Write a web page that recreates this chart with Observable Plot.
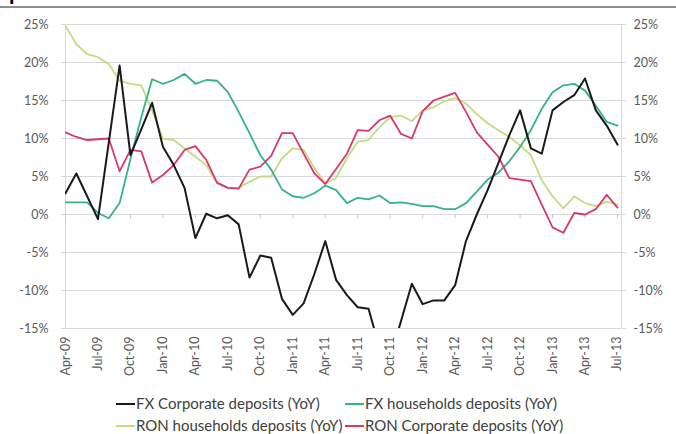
<!DOCTYPE html>
<html>
<head>
<meta charset="utf-8">
<script src="https://cdn.jsdelivr.net/npm/d3@7"></script>
<script src="https://cdn.jsdelivr.net/npm/@observablehq/plot@0.6"></script>
<style>
  html, body { margin: 0; padding: 0; background: #fff; }
  #wrap { position: relative; width: 676px; height: 434px; overflow: hidden; font-family: Lato, "Open Sans", sans-serif; }
  #head { position: absolute; left: 0; top: 0; width: 676px; height: 6px; border-bottom: 2px solid #8f8f8f; overflow: hidden; z-index: 5; }
  #title { position: absolute; left: 9px; top: -20px; font: bold 22px/24px Lato, sans-serif; color: #000; }
  #chart { position: absolute; left: 0; top: 0; z-index: 1; }
  #legend { position: absolute; left: 0; top: 0; z-index: 2; }
  .leg { position: absolute; font-size: 15px; color: #404040; white-space: nowrap; line-height: 16px; }
  .leg span.sw { display: inline-block; width: 19px; height: 2px; vertical-align: middle; margin-right: 1px; position: relative; top: -1px; }
</style>
</head>
<body>
<div id="wrap">
  <div id="chart"></div>
  <div id="head"><div id="title">pos</div></div>
  <div id="legend"></div>
</div>
<script>
const months = ["Apr-09","May-09","Jun-09","Jul-09","Aug-09","Sep-09","Oct-09","Nov-09","Dec-09",
  "Jan-10","Feb-10","Mar-10","Apr-10","May-10","Jun-10","Jul-10","Aug-10","Sep-10","Oct-10","Nov-10","Dec-10",
  "Jan-11","Feb-11","Mar-11","Apr-11","May-11","Jun-11","Jul-11","Aug-11","Sep-11","Oct-11","Nov-11","Dec-11",
  "Jan-12","Feb-12","Mar-12","Apr-12","May-12","Jun-12","Jul-12","Aug-12","Sep-12","Oct-12","Nov-12","Dec-12",
  "Jan-13","Feb-13","Mar-13","Apr-13","May-13","Jun-13","Jul-13"];

const tickLabels = ["Apr-09","Jul-09","Oct-09","Jan-10","Apr-10","Jul-10","Oct-10","Jan-11","Apr-11",
  "Jul-11","Oct-11","Jan-12","Apr-12","Jul-12","Oct-12","Jan-13","Apr-13","Jul-13"];

const yTicks = [-15, -10, -5, 0, 5, 10, 15, 20, 25];

const fxCorporate = [2.8, 5.4, 2.4, -0.6, 9.5, 19.6, 7.8, 11.2, 14.7, 8.9, 6.5, 3.5,
  -3.1, 0.1, -0.5, -0.1, -1.3, -8.3, -5.4, -5.7, -11.1, -13.2, -11.7, -7.8,
  -3.5, -8.6, -10.6, -12.2, -12.4, -17.5, -19.0, -14.0, -9.1, -11.8, -11.3, -11.3,
  -9.3, -3.5, 0.0, 3.2, 6.8, 10.4, 13.7, 8.7, 8.0, 13.7, 14.8, 15.7,
  17.9, 13.7, 11.7, 9.2];

const fxHouseholds = [1.6, 1.6, 1.6, 0.2, -0.5, 1.5, 7.3, 12.8, 17.8, 17.2, 17.7, 18.5,
  17.2, 17.7, 17.6, 16.1, 13.5, 10.7, 7.8, 5.9, 3.3, 2.4, 2.2, 2.8,
  3.8, 3.2, 1.5, 2.2, 2.0, 2.5, 1.5, 1.6, 1.4, 1.1, 1.1, 0.7,
  0.7, 1.5, 3.0, 4.6, 5.5, 7.0, 8.9, 11.1, 13.9, 16.1, 17.0, 17.2,
  16.3, 14.3, 12.2, 11.7];

const ronHouseholds = [24.8, 22.4, 21.1, 20.7, 19.8, 17.6, 17.2, 17.0, 13.7, 10.0, 9.8, 8.7,
  7.6, 6.5, 4.1, 3.5, 3.5, 4.3, 5.0, 5.0, 7.4, 8.7, 8.5, 6.1,
  4.1, 4.8, 7.4, 9.6, 9.8, 11.5, 12.8, 13.0, 12.3, 13.7, 14.1, 14.9,
  15.3, 14.6, 13.2, 12.0, 11.1, 10.2, 9.1, 7.8, 4.5, 2.4, 0.8, 2.4,
  1.5, 1.1, 1.7, 1.3];

const ronCorporate = [10.8, 10.2, 9.8, 9.9, 10.0, 5.7, 8.5, 8.3, 4.2, 5.2, 6.5, 8.5,
  9.0, 7.2, 4.2, 3.5, 3.4, 5.9, 6.3, 7.7, 10.7, 10.7, 8.0, 5.4,
  4.0, 6.0, 8.0, 11.1, 11.0, 12.4, 13.0, 10.6, 10.0, 13.6, 15.0, 15.5,
  16.0, 13.5, 10.8, 9.2, 7.6, 4.8, 4.6, 4.4, 1.3, -1.7, -2.4, 0.2,
  0.0, 0.7, 2.6, 0.9];

const series = [
  {name: "FX Corporate deposits (YoY)", color: "#1a1a1a", values: fxCorporate},
  {name: "FX households deposits (YoY)", color: "#35b383", values: fxHouseholds},
  {name: "RON households deposits (YoY)", color: "#c2dc80", values: ronHouseholds},
  {name: "RON Corporate deposits (YoY)", color: "#d9386a", values: ronCorporate}
];
const drawOrder = [2, 1, 3, 0];

const rows = s => s.values.map((v, i) => ({i, v, name: s.name}));
const tickIdx = tickLabels.map(t => months.indexOf(t));
const xMax = months.length - 1 + 0.37;
const grid = "#d9d9d9";
const txt = "#595959";

const chart = Plot.plot({
  width: 676,
  height: 390,
  marginTop: 24,
  marginBottom: 62,
  marginLeft: 65,
  marginRight: 55,
  x: {type: "linear", domain: [0, xMax], label: null},
  y: {domain: [-15, 25], label: null},
  style: {fontFamily: "Lato, sans-serif", fontSize: "12.5px", color: txt, background: "transparent"},
  marks: [
    Plot.ruleY(yTicks, {stroke: grid, strokeWidth: 1}),
    Plot.ruleX([0, xMax], {y1: -15, y2: 25, stroke: grid, strokeWidth: 1}),
    Plot.ruleX(tickIdx, {y1: 0, y2: -0.55, stroke: "#c8c8c8"}),
    Plot.axisY(yTicks, {anchor: "left", label: null, tickSize: 4, tickPadding: 13, stroke: grid, fill: txt, tickFormat: d => d + "%"}),
    Plot.axisY(yTicks, {anchor: "right", label: null, tickSize: 4, tickPadding: 8, stroke: grid, fill: txt, tickFormat: d => d + "%"}),
    Plot.axisX(tickIdx, {anchor: "bottom", label: null, tickSize: 0, tickPadding: 8, tickRotate: -90, fill: txt, tickFormat: i => months[i]}),
    ...drawOrder.map(k => Plot.lineY(rows(series[k]), {x: "i", y: "v", stroke: series[k].color, strokeWidth: k === 0 ? 2 : 1.8, clip: true}))
  ]
});
document.getElementById("chart").appendChild(chart);

const legendPos = [
  {k: 0, left: 116, top: 395},
  {k: 1, left: 345, top: 395},
  {k: 2, left: 116, top: 417},
  {k: 3, left: 345, top: 417}
];
const legend = document.getElementById("legend");
legendPos.forEach(p => {
  const d = document.createElement("div");
  d.className = "leg";
  d.style.left = p.left + "px";
  d.style.top = p.top + "px";
  const sw = document.createElement("span");
  sw.className = "sw";
  sw.style.background = series[p.k].color;
  d.appendChild(sw);
  d.appendChild(document.createTextNode(series[p.k].name));
  legend.appendChild(d);
});
</script>
</body>
</html>
